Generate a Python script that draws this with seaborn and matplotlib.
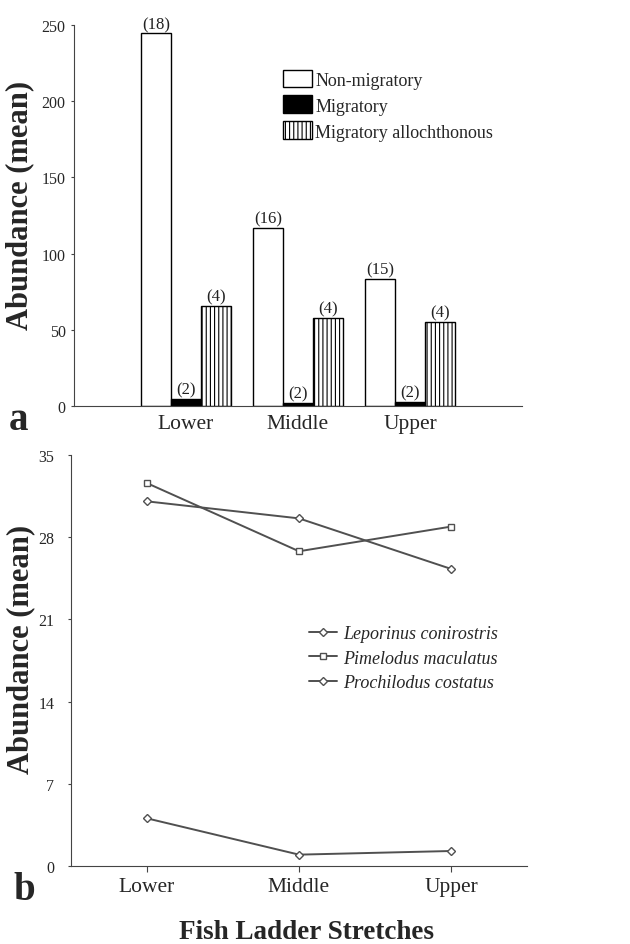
import matplotlib
matplotlib.use("Agg")
import matplotlib.pyplot as plt
import seaborn as sns
import pandas as pd

# panel a: mean abundance per guild
stretches = ["Lower", "Middle", "Upper"]
guilds = ["Non-migratory", "Migratory", "Migratory allochthonous"]
non_migratory = [244.5, 116.9, 83.6]
migratory = [4.8, 1.8, 2.8]
allochthonous = [65.7, 58.0, 55.4]
n_species = {
    "Non-migratory": ["(18)", "(16)", "(15)"],
    "Migratory": ["(2)", "(2)", "(2)"],
    "Migratory allochthonous": ["(4)", "(4)", "(4)"],
}

# panel b: mean abundance per migratory species
species = ["Leporinus conirostris", "Pimelodus maculatus", "Prochilodus costatus"]
leporinus = [4.06, 0.97, 1.28]
pimelodus = [32.6, 26.8, 28.9]
prochilodus = [31.05, 29.6, 25.3]

sns.set_style("ticks")
plt.rcParams["font.family"] = ["Liberation Serif", "DejaVu Serif"]
plt.rcParams["hatch.linewidth"] = 0.8
plt.rcParams["hatch.color"] = "#222222"

df_a = pd.DataFrame({
    "stretch": stretches * 3,
    "guild": [g for g in guilds for _ in stretches],
    "abundance": non_migratory + migratory + allochthonous,
})

line_col = "#505050"
df_b = pd.DataFrame({
    "stretch": stretches * 3,
    "species": [s for s in species for _ in stretches],
    "abundance": leporinus + pimelodus + prochilodus,
})

fig = plt.figure(figsize=(6.3, 9.45), dpi=100)
ax1 = fig.add_axes([0.1175, 0.5693, 0.711, 0.4032])
ax2 = fig.add_axes([0.1127, 0.0825, 0.7238, 0.435])

# --- panel a ---
sns.barplot(data=df_a, x="stretch", y="abundance", hue="guild", order=stretches,
            hue_order=guilds, palette=["white", "black", "white"], edgecolor="black",
            linewidth=1.0, width=0.8, legend=False, ax=ax1)
for cont, g in zip(ax1.containers, guilds):
    cont.set_label(g)
    if g == "Migratory allochthonous":
        for p in cont.patches:
            p.set_hatch("||||")
    ax1.bar_label(cont, labels=n_species[g], padding=1, fontsize=12, color="#222222")

ax1.set_xlim(-1, 3)
ax1.set_ylim(0, 250)
ax1.set_yticks([0, 50, 100, 150, 200, 250])
ax1.tick_params(axis="y", labelsize=11.5, length=2, pad=4, color="#444444")
ax1.tick_params(axis="x", labelsize=15.5, length=0, pad=6)
ax1.set_xlabel("")
ax1.set_ylabel("Abundance (mean)", fontsize=22, fontweight="bold")
ax1.yaxis.set_label_coords(-0.088, 0.53)
sns.despine(ax=ax1)
for sp in ("left", "bottom"):
    ax1.spines[sp].set_color("#444444")
ax1.legend(handles=ax1.containers, loc="upper left", bbox_to_anchor=(0.45, 0.902),
           frameon=False, fontsize=13, handlelength=1.6, handleheight=1.15,
           handletextpad=0.2, labelspacing=0.38, borderaxespad=0)

# --- panel b ---
sns.lineplot(data=df_b, x="stretch", y="abundance", hue="species", style="species",
             hue_order=species, style_order=species,
             palette=[line_col] * 3, markers={species[0]: "D", species[1]: "s", species[2]: "D"},
             dashes=False, markersize=4.5, markerfacecolor="white", markeredgecolor=line_col,
             markeredgewidth=1.0, linewidth=1.4, ax=ax2)
ax2.set_xlim(-0.5, 2.5)
ax2.set_ylim(0, 35)
ax2.set_yticks([0, 7, 14, 21, 28, 35])
ax2.tick_params(axis="y", labelsize=11.5, length=2, pad=10, color="#444444")
ax2.tick_params(axis="x", labelsize=15.5, length=4, pad=4, color="#444444")
ax2.set_xlabel("")
ax2.set_ylabel("Abundance (mean)", fontsize=22, fontweight="bold")
ax2.yaxis.set_label_coords(-0.078, 0.53)
sns.despine(ax=ax2)
for sp in ("left", "bottom"):
    ax2.spines[sp].set_color("#444444")
leg = ax2.legend(loc="upper left", bbox_to_anchor=(0.505, 0.603), frameon=False,
                 handlelength=1.6, handletextpad=0.3, labelspacing=0.4,
                 borderaxespad=0, prop={"size": 13, "style": "italic"})
for h in leg.legend_handles:
    h.set_markerfacecolor("white")
    h.set_markeredgecolor(line_col)

fig.text(0.486, 0.006, "Fish Ladder Stretches", ha="center", va="baseline",
         fontsize=19.5, fontweight="bold")
fig.text(0.014, 0.545, "a", ha="left", va="baseline", fontsize=28, fontweight="bold")
fig.text(0.022, 0.048, "b", ha="left", va="baseline", fontsize=28, fontweight="bold")

fig.savefig("out.png", dpi=100)
